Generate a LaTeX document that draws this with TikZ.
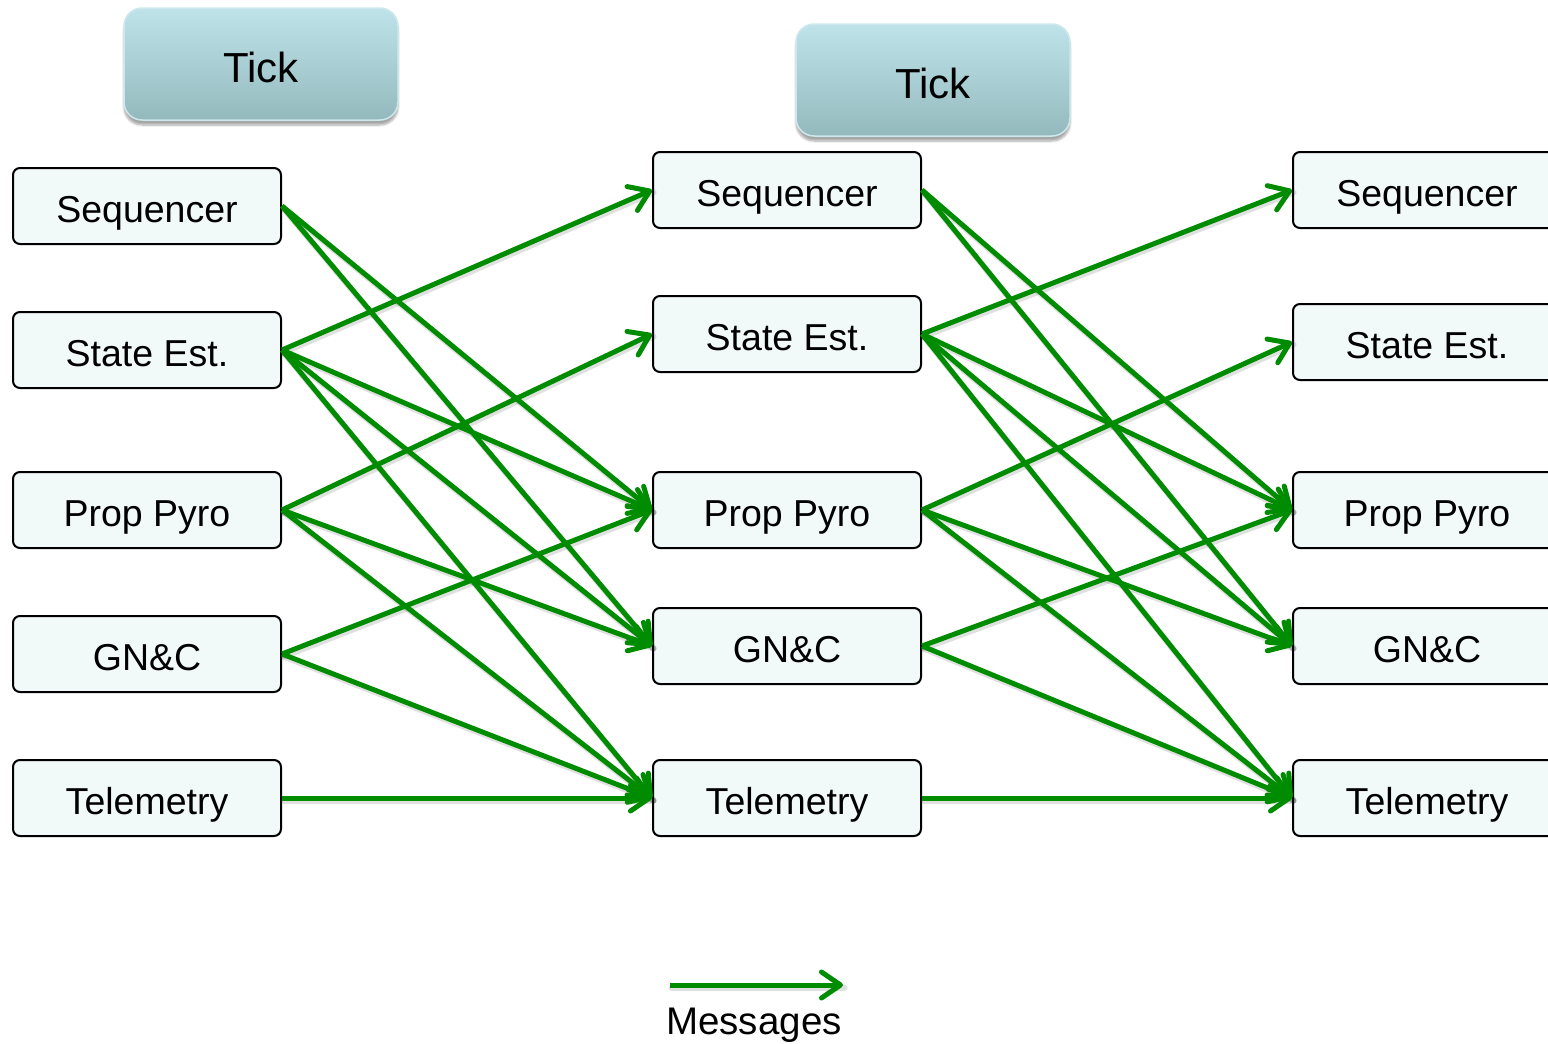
\documentclass[tikz,border=0pt]{standalone}
\usepackage{fontspec}
\setmainfont{Liberation Sans}
\usetikzlibrary{arrows.meta,shadows.blur}

\definecolor{msggreen}{RGB}{0,140,0}
\definecolor{boxfill}{RGB}{242,249,249}
\definecolor{ticktop}{RGB}{190,228,234}
\definecolor{tickbot}{RGB}{148,185,189}
\definecolor{tickline}{RGB}{204,232,236}

\tikzset{
  taskbox/.style={draw=black, line width=2pt, fill=boxfill, rounded corners=7pt,
    minimum width=268pt, minimum height=76pt, inner sep=0pt,
    text height=33pt, text depth=0pt,
    font=\fontsize{37.5}{42}\selectfont},
  tickbox/.style={draw=tickline, line width=1.5pt, rounded corners=18pt,
    top color=ticktop, bottom color=tickbot,
    minimum width=274pt, minimum height=112pt, inner sep=0pt,
    text height=36pt, text depth=0pt,
    font=\fontsize{42}{46}\selectfont,
    blur shadow={shadow xshift=0pt, shadow yshift=-5pt, shadow blur steps=8, shadow opacity=35}},
  msg/.style={draw=msggreen, line width=5pt,
    -{Straight Barb[length=19pt, width=26pt, round]}},
  msgshade/.style={draw=black, opacity=0.12, line width=6pt, line cap=round,
    transform canvas={xshift=1.5pt, yshift=-2.5pt}},
}

\begin{document}
\begin{tikzpicture}[x=1pt, y=-1pt]
  \useasboundingbox (0,0) rectangle (1548,1044);

  % clock ticks
  \node[tickbox] (tick1) at (261,64) {Tick};
  \node[tickbox] (tick2) at (933,80) {Tick};

  % three frames of tasks
  \foreach \c/\x/\ya/\yb/\yc/\yd/\ye in {L/147/206/350/510/654/798, M/787/190/334/510/646/798, R/1427/190/342/510/646/798}{
    \node[taskbox] (\c1) at (\x,\ya) {Sequencer};
    \node[taskbox] (\c2) at (\x,\yb) {State Est.};
    \node[taskbox] (\c3) at (\x,\yc) {Prop Pyro};
    \node[taskbox] (\c4) at (\x,\yd) {GN\&C};
    \node[taskbox] (\c5) at (\x,\ye) {Telemetry};
  }

  % messages passed from one frame to the next: soft shadows first, then the arrows
  \foreach \s/\t in {L/M, M/R}{
    \foreach \a/\b in {1/3, 1/4, 2/1, 2/3, 2/4, 2/5, 3/2, 3/4, 3/5, 4/3, 4/5, 5/5}{
      \draw[msgshade] (\s\a.east) -- (\t\b.west);
    }
  }
  \foreach \s/\t in {L/M, M/R}{
    \foreach \a/\b in {1/3, 1/4, 2/1, 2/3, 2/4, 2/5, 3/2, 3/4, 3/5, 4/3, 4/5, 5/5}{
      \draw[msg] (\s\a.east) -- (\t\b.west);
    }
  }

  % legend
  \coordinate (legA) at (670,985);
  \coordinate (legB) at (843,985);
  \draw[msgshade] (legA) -- (legB);
  \draw[msg] (legA) -- (legB);
  \node[font=\fontsize{38.5}{42}\selectfont, anchor=base] (legtext) at (754,1034) {Messages};
\end{tikzpicture}
\end{document}
